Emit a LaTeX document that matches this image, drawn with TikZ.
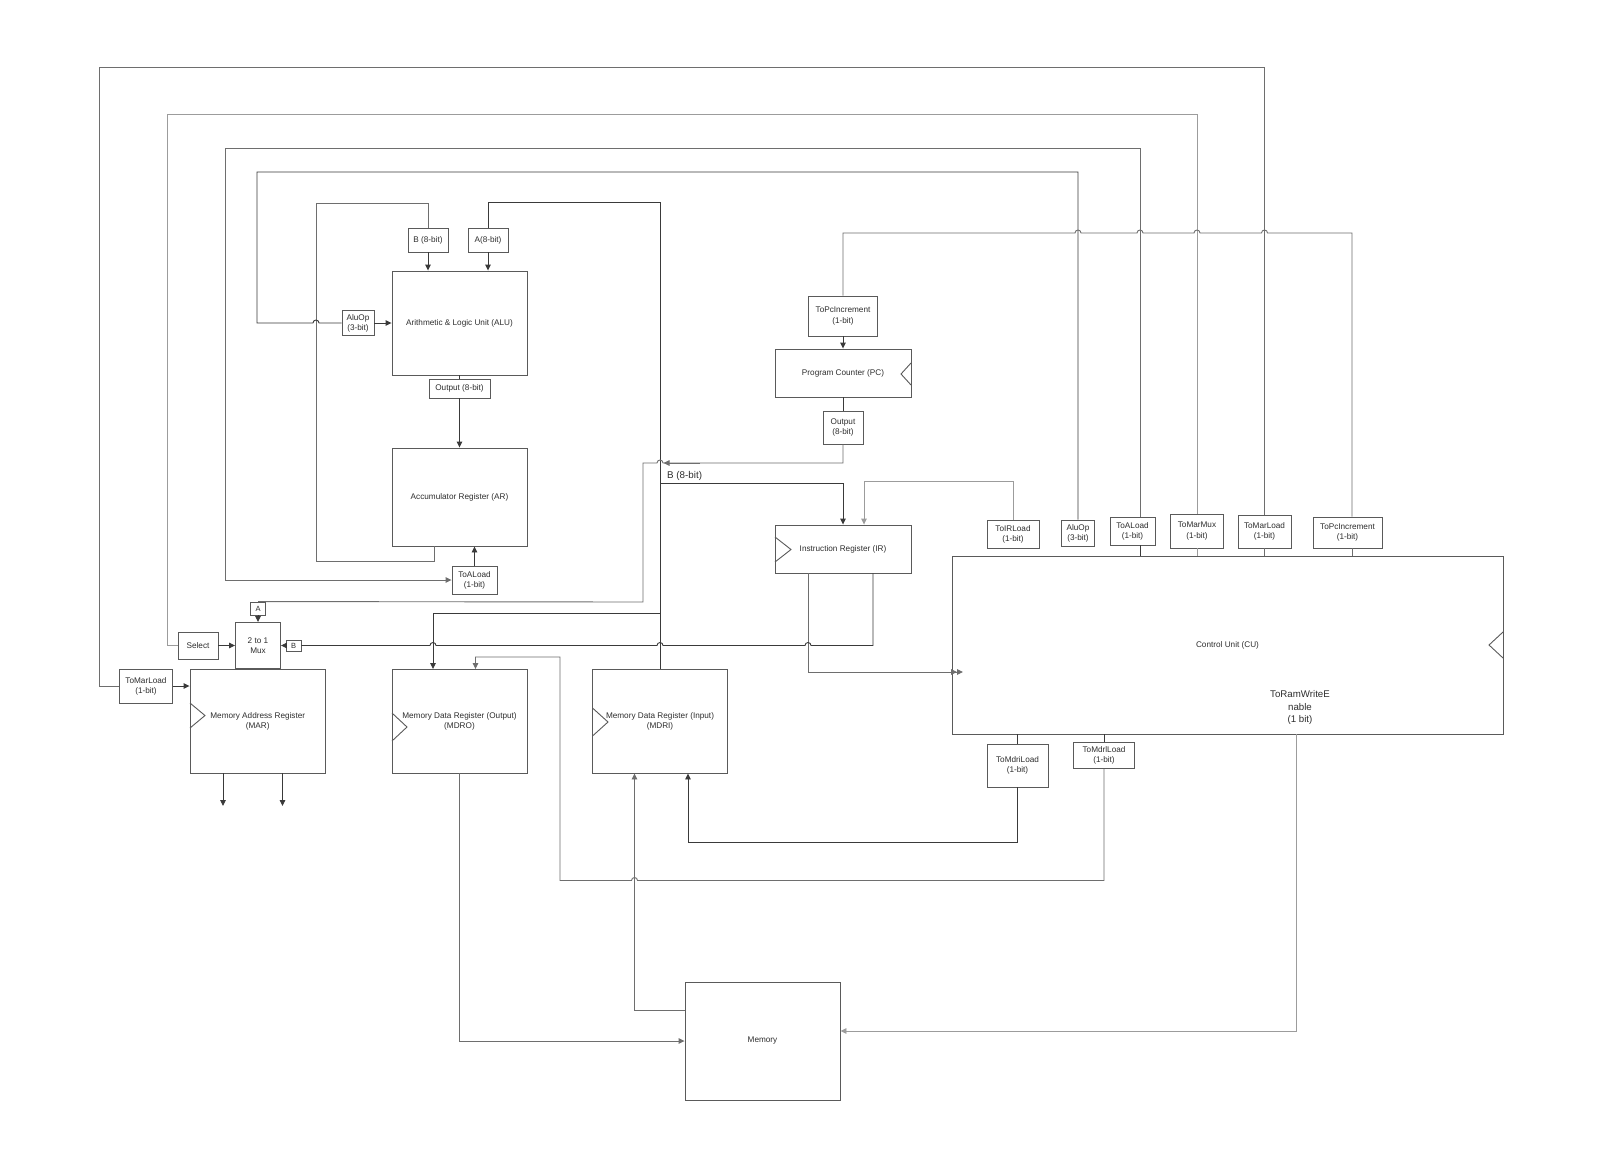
\documentclass[tikz,border=0pt]{standalone}
\usepackage{fontspec}
\setmainfont{Liberation Sans}
\usetikzlibrary{arrows.meta}
\definecolor{boxc}{HTML}{5A5A5A}
\definecolor{wirec}{HTML}{3A3A3A}
\definecolor{medw}{HTML}{6E6E6E}
\definecolor{lightw}{HTML}{9C9C9C}
\definecolor{txtc}{HTML}{2E2E2E}
\begin{document}
\begin{tikzpicture}[x=1pt,y=-1pt,
  blk/.style={draw=boxc, line width=0.9pt, inner sep=0pt, align=center,
    font=\fontsize{8.2}{10.2}\selectfont, text=txtc},
  wire/.style={draw=wirec, line width=0.9pt},
  arr/.style={wire, -{Triangle[length=6pt,width=5.5pt]}},
  clk/.style={draw=boxc, line width=0.9pt},
  lbl/.style={font=\fontsize{9.8}{12.4}\selectfont, text=txtc, inner sep=0pt, align=center}]
\fill[white] (0,0) rectangle (1600,1151);
\useasboundingbox (0,0) rectangle (1600,1151);

% ---------- nodes ----------
\node[blk,minimum width=135pt,minimum height=104pt] (alu) at (459.5,323) {Arithmetic \& Logic Unit (ALU)};
\node[blk,minimum width=40pt,minimum height=24pt] (bin) at (428,240) {B (8-bit)};
\node[blk,minimum width=40pt,minimum height=24pt] (ain) at (488,240) {A(8-bit)};
\node[blk,minimum width=32pt,minimum height=25pt] (aluopa) at (358,323) {AluOp\\(3-bit)};
\node[blk,minimum width=61pt,minimum height=19pt] (aluout) at (459.5,388.5) {Output (8-bit)};
\node[blk,minimum width=135pt,minimum height=98pt] (ar) at (459.5,497) {Accumulator Register (AR)};
\node[blk,minimum width=45pt,minimum height=28pt] (toaloada) at (474.5,580) {ToALoad\\(1-bit)};

\node[blk,minimum width=69pt,minimum height=40pt] (topcp) at (843,316) {ToPcIncrement\\(1-bit)};
\node[blk,minimum width=136pt,minimum height=48pt] (pc) at (843,373) {Program Counter (PC)};
\node[blk,minimum width=40pt,minimum height=33pt] (pcout) at (843,427.5) {Output\\(8-bit)};
\node[blk,minimum width=136pt,minimum height=48pt] (ir) at (843,549) {Instruction Register (IR)};

\node[blk,minimum width=551pt,minimum height=178pt] (cu) at (1227.5,645) {Control Unit (CU)};
\node[blk,minimum width=52pt,minimum height=28pt] (toirload) at (1013,534) {ToIRLoad\\(1-bit)};
\node[blk,minimum width=33pt,minimum height=26pt] (aluopc) at (1078,533) {AluOp\\(3-bit)};
\node[blk,minimum width=45pt,minimum height=28pt] (toaloadc) at (1132.5,531) {ToALoad\\(1-bit)};
\node[blk,minimum width=53pt,minimum height=34pt] (tomarmux) at (1197,531) {ToMarMux\\(1-bit)};
\node[blk,minimum width=53pt,minimum height=33pt] (tomarloadc) at (1264.5,531.5) {ToMarLoad\\(1-bit)};
\node[blk,minimum width=69pt,minimum height=31pt] (topcc) at (1347.5,532.5) {ToPcIncrement\\(1-bit)};
\node[blk,minimum width=61pt,minimum height=43pt] (tomdri) at (1017.5,765.5) {ToMdriLoad\\(1-bit)};
\node[blk,minimum width=61pt,minimum height=26pt] (tomdrl) at (1104,755.5) {ToMdrlLoad\\(1-bit)};
\node[lbl,font=\fontsize{9.7}{12.4}\selectfont] (ramwe) at (1300,707.5) {ToRamWriteE\\nable\\(1 bit)};

\node[blk,minimum width=40pt,minimum height=27pt] (select) at (198,645.5) {Select};
\node[blk,minimum width=45pt,minimum height=46pt] (mux) at (258,645.5) {2 to 1\\Mux};
\node[blk,minimum width=15.5pt,minimum height=13pt,font=\fontsize{7.5}{9}\selectfont] (asel) at (258,608.5) {A};
\node[blk,minimum width=15pt,minimum height=11pt,font=\fontsize{7.5}{9}\selectfont] (bsel) at (293.5,645.5) {B};
\node[blk,minimum width=53pt,minimum height=34pt] (tomarloadl) at (146,686) {ToMarLoad\\(1-bit)};
\node[blk,minimum width=135.5pt,minimum height=103.5pt] (mar) at (257.75,721.25) {Memory Address Register\\(MAR)};
\node[blk,minimum width=135pt,minimum height=103.5pt] (mdro) at (459.5,721.25) {Memory Data Register (Output)\\(MDRO)};
\node[blk,minimum width=135pt,minimum height=103.5pt] (mdri) at (660,721.25) {Memory Data Register (Input)\\(MDRI)};
\node[blk,minimum width=155pt,minimum height=118pt] (mem) at (762.5,1041) {Memory};

\node[lbl,anchor=south west] (blabel) at (667,481) {B (8-bit)};

% ---------- clock triangles ----------
\draw[clk] (190,703) -- (205,715.5) -- (190,728);
\draw[clk] (392,713) -- (407,727) -- (392,741);
\draw[clk] (592.5,708) -- (608,722) -- (592.5,736);
\draw[clk] (775,537) -- (791,549.5) -- (775,562);
\draw[clk] (911,363) -- (901,374) -- (911,385);
\draw[clk] (1503,632) -- (1489,645) -- (1503,658);

% ---------- helper coordinates ----------
\coordinate (c1140) at (1140,0);
\coordinate (c1352) at (1352,0);
\coordinate (c864) at (864,0);
\coordinate (c433) at (433,0);
\coordinate (c475) at (475.5,0);
\coordinate (c434) at (434,0);
\coordinate (c688) at (688,0);
\coordinate (c634) at (634.5,0);
\coordinate (c808) at (808,0);
\coordinate (c873) at (873,0);
\coordinate (c1296) at (1296,0);
\coordinate (c223) at (223,0);
\coordinate (c282) at (282.5,0);

% ---------- ALU / AR ----------
\draw[arr] (bin.south) -- (bin.south |- alu.north);
\draw[arr] (ain.south) -- (ain.south |- alu.north);
\draw[arr] (aluopa.east) -- (alu.west);
\draw[wire] (alu.south) -- (aluout.north);
\draw[arr] (aluout.south) -- (ar.north);
\draw[arr] (toaloada.north) -- (toaloada.north |- ar.south);
\draw[wire,draw=medw] (ar.south -| c434) -- (434,561) -- (316,561) -- (316,203) -- (428,203) -- (bin.north);
\draw[wire] (ain.north) -- (488,202) -- (660,202) -- (mdri.north);

% AluOp control line
\draw[wire] (aluopa.west) -- (319,323) arc[start angle=0,end angle=180,radius=3pt] -- (257,323) -- (257,172) -- (1078,172) -- (aluopc.north);

% ToALoad control line
\draw[arr,draw=medw] (toaloadc.north -| c1140) -- (1140,148) -- (225.5,148) -- (225.5,580) -- (toaloada.west);
\draw[wire] (toaloadc.south -| c1140) -- (cu.north -| c1140);

% ToMarMux control line
\draw[wire,draw=lightw] (tomarmux.north) -- (1197,114.3) -- (167.3,114.3) -- (167.3,645.5) -- (select.west);
\draw[wire,draw=lightw] (tomarmux.south) -- (tomarmux.south |- cu.north);
\draw[arr] (select.east) -- (mux.west);

% ToMarLoad control line
\draw[wire,draw=medw] (tomarloadc.north) -- (1264.5,67) -- (99,67) -- (99,686) -- (tomarloadl.west);
\draw[wire,draw=medw] (tomarloadc.south) -- (tomarloadc.south |- cu.north);
\draw[arr] (tomarloadl.east) -- (tomarloadl.east -| mar.west);

% ToPcIncrement control line
\draw[wire,draw=medw] (topcp.north) -- (843,233) -- (1075,233) arc[start angle=180,end angle=0,radius=3pt]
  -- (1137,233) arc[start angle=180,end angle=0,radius=3pt]
  -- (1194,233) arc[start angle=180,end angle=0,radius=3pt]
  -- (1261.5,233) arc[start angle=180,end angle=0,radius=3pt]
  -- (1352,233) -- (topcc.north -| c1352);
\draw[wire,draw=medw] (topcc.south -| c1352) -- (cu.north -| c1352);
\draw[arr] (topcp.south) -- (pc.north);

% PC output
\draw[wire] (pc.south) -- (pcout.north);
\draw[wire,draw=medw] (pcout.south) -- (843,463) -- (663,463) arc[start angle=0,end angle=180,radius=3pt] -- (643,463) -- (643,602) -- (asel.north);
\draw[arr,draw=medw] (700,463) -- (663.5,463);
\draw[arr] (asel.south) -- (mux.north);

% bus to IR
\draw[arr] (660,483) -- (843,483) -- (ir.north);
\draw[arr,draw=lightw] (toirload.north) -- (1013,481) -- (864,481) -- (ir.north -| c864);

% IR outputs
\draw[wire,draw=medw,-{Triangle[length=6pt,width=5.5pt]Triangle[length=6pt,width=5.5pt]}] (ir.south -| c808) -- (808,672) -- (963,672);
\draw[wire] (ir.south -| c873) -- (873,645.5) -- (811,645.5) arc[start angle=0,end angle=180,radius=3pt]
  -- (663,645.5) arc[start angle=0,end angle=180,radius=3pt]
  -- (436,645.5) arc[start angle=0,end angle=180,radius=3pt] -- (bsel.east);
\draw[arr] (bsel.west) -- (mux.east);

% bus to MDRO
\draw[arr] (660,613) -- (433,613) -- (mdro.north -| c433);

% MAR outputs
\draw[arr] (mar.south -| c223) -- (223,806);
\draw[arr] (mar.south -| c282) -- (282.5,806);

% memory connections
\draw[arr,draw=medw] (mdro.south) -- (459.5,1041) -- (mem.west);
\draw[arr,draw=medw] (685,1010) -- (634.5,1010) -- (mdri.south -| c634);
\draw[wire] (tomdri.north |- cu.south) -- (tomdri.north);
\draw[arr] (tomdri.south) -- (1017.5,842) -- (688,842) -- (mdri.south -| c688);
\draw[wire] (tomdrl.north |- cu.south) -- (tomdrl.north);
\draw[arr,draw=medw] (tomdrl.south) -- (1104,880.5) -- (637.5,880.5) arc[start angle=0,end angle=180,radius=3pt]
  -- (560,880.5) -- (560,657) -- (475.5,657) -- (mdro.north -| c475);
\draw[arr,draw=lightw] (cu.south -| c1296) -- (1296,1031) -- (mem.east |- 0,1031);
\end{tikzpicture}
\end{document}
